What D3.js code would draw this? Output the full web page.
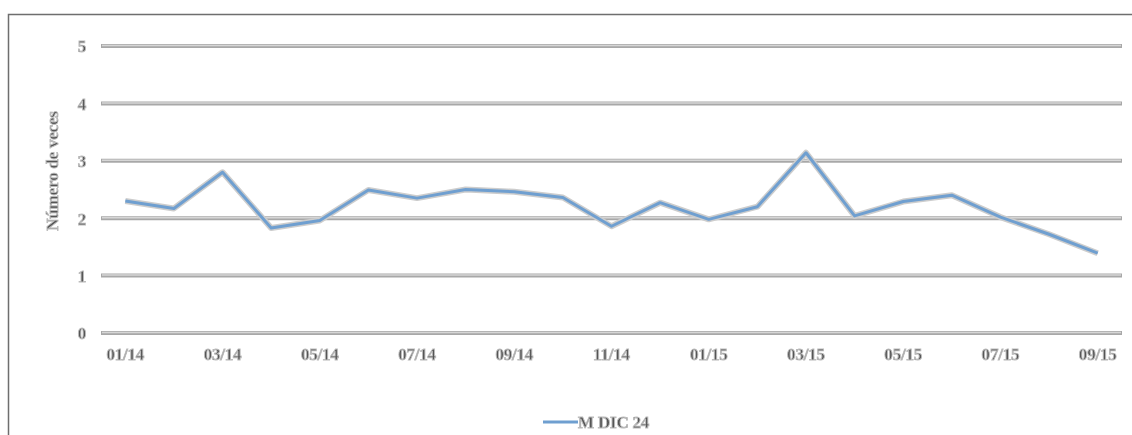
<!DOCTYPE html>
<html><head><meta charset="utf-8">
<script src="https://cdn.jsdelivr.net/npm/d3@7"></script>
<style>
html,body{margin:0;padding:0;background:#fff;}
svg{display:block;}
text{font-family:"Liberation Serif","DejaVu Serif",serif;font-weight:bold;}
</style></head>
<body>
<script>
const categories = ["01/14","02/14","03/14","04/14","05/14","06/14","07/14","08/14","09/14","10/14","11/14","12/14","01/15","02/15","03/15","04/15","05/15","06/15","07/15","08/15","09/15"];
const values = [2.3,2.17,2.8,1.83,1.96,2.49,2.35,2.5,2.46,2.36,1.86,2.27,1.98,2.2,3.14,2.04,2.29,2.4,2.02,1.72,1.39];
const yTicks = [0,1,2,3,4,5];
const tickLabels = categories.filter((d,i)=>i%2===0);
const seriesName = "M DIC 24";
const yTitle = "Número de veces";

const W=1132,H=435;
const svg=d3.select("body").append("svg").attr("width",W).attr("height",H);
const defs=svg.append("defs");
const f=defs.append("filter").attr("id","soft").attr("x","-10%").attr("y","-50%").attr("width","120%").attr("height","200%");
f.append("feGaussianBlur").attr("stdDeviation",0.7);

// border
svg.append("path").attr("d",`M8.5,${H} L8.5,14.5 L${W},14.5`).attr("fill","none").attr("stroke","#6e6e6e").attr("stroke-width",1.5);

const x=d3.scaleBand().domain(categories).range([101,1122]);
const y=d3.scaleLinear().domain([0,5]).range([333,46]);

// gridlines
const g=svg.append("g");
yTicks.forEach(t=>{
  g.append("line").attr("x1",101).attr("x2",1122).attr("y1",y(t)).attr("y2",y(t))
   .attr("stroke","#a8a8a8").attr("stroke-width",4);
  g.append("line").attr("x1",102).attr("x2",1121).attr("y1",y(t)-0.5).attr("y2",y(t)-0.5)
   .attr("stroke","#d6d6d6").attr("stroke-width",1.5);
});

function styleText(sel){
  sel.attr("font-size",17).attr("fill","#555").attr("stroke","#bcbcbc").attr("stroke-width",0.9)
     .attr("letter-spacing","-0.2px").attr("filter","url(#soft)");
}

// y axis labels
const yAxis=d3.axisLeft(y).tickValues(yTicks).tickSize(0).tickPadding(0).tickFormat(d3.format("d"));
const ya=svg.append("g").attr("transform","translate(86,0)").call(yAxis);
ya.select(".domain").remove();
ya.selectAll("text").attr("dy","0.35em").call(styleText);

// x axis labels
const xAxis=d3.axisBottom(x).tickValues(tickLabels).tickSize(0).tickPadding(0);
const xa=svg.append("g").attr("transform","translate(0,354)").call(xAxis);
xa.select(".domain").remove();
xa.selectAll("text").attr("dy","0.35em").attr("y",0).call(styleText);

// y title
svg.append("text").attr("transform","translate(52,171) rotate(-90)").attr("text-anchor","middle").attr("dy","0.35em")
  .call(styleText).text(yTitle);

// line
const line=d3.line().x((d,i)=>x(categories[i])+x.bandwidth()/2).y(d=>y(d));
svg.append("path").datum(values).attr("d",line).attr("fill","none").attr("stroke","#cdcdcd").attr("stroke-width",6).attr("stroke-linejoin","round").attr("filter","url(#soft)");
svg.append("path").datum(values).attr("d",line).attr("fill","none").attr("stroke","#6f9fd0").attr("stroke-width",3).attr("stroke-linejoin","round");

// legend
const lg=svg.append("g").attr("transform","translate(543,422)");
lg.append("line").attr("x1",0).attr("x2",35).attr("stroke","#cdcdcd").attr("stroke-width",6).attr("filter","url(#soft)");
lg.append("line").attr("x1",0).attr("x2",35).attr("stroke","#6f9fd0").attr("stroke-width",3);
lg.append("text").attr("x",35).attr("dy","0.35em").call(styleText).text(seriesName);
</script>
</body></html>
